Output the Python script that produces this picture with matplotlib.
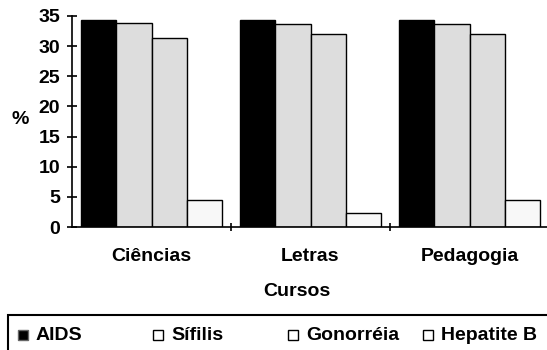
import matplotlib
matplotlib.use("Agg")
import matplotlib.pyplot as plt
import numpy as np
from matplotlib.patches import Rectangle

plt.rcParams["font.family"] = ["Liberation Sans", "DejaVu Sans"]
plt.rcParams["font.weight"] = "bold"

# =============================================================================
# DATA
# =============================================================================

cursos = ["Ciências", "Letras", "Pedagogia"]
doencas = ["AIDS", "Sífilis", "Gonorréia", "Hepatite B"]
aids = [34.3, 34.3, 34.3]
sifilis = [33.8, 33.6, 33.6]
gonorreia = [31.3, 32.0, 32.0]
hepatite = [4.4, 2.4, 4.4]
yticks = [0, 5, 10, 15, 20, 25, 30, 35]

colors = ["#000000", "#dddddd", "#dddddd", "#f8f8f8"]

# =============================================================================
# PLOT
# =============================================================================

W, H = 547, 350
fig = plt.figure(figsize=(W / 100, H / 100), dpi=100)
ax = fig.add_axes([72 / W, 123 / H, 477 / W, 211 / H])

x = np.arange(len(cursos))
width = 0.222
series = [aids, sifilis, gonorreia, hepatite]
for i, vals in enumerate(series):
    ax.bar(x + (i - 1.5) * width, vals, width, color=colors[i],
           edgecolor="black", linewidth=1.0, zorder=2)

ax.set_xlim(-0.5, 2.5)
ax.set_ylim(0, 35)
ax.set_yticks(yticks)
ax.tick_params(axis="y", labelsize=14, length=7, width=1.2, pad=5,
               direction="inout")
ax.set_xticks(x)
ax.set_xticklabels(cursos, fontsize=14)
ax.tick_params(axis="x", which="major", length=0, pad=15)
ax.set_xticks([0.5, 1.5], minor=True)
ax.tick_params(axis="x", which="minor", length=6, direction="inout",
               width=1.2)

for s in ["top", "right"]:
    ax.spines[s].set_visible(False)
ax.spines["left"].set_linewidth(1.2)
ax.spines["bottom"].set_linewidth(1.2)

ax.set_ylabel("%", fontsize=14, fontweight="bold", rotation=0,
              va="center", ha="center")
ax.yaxis.set_label_coords(-52 / 477, (227 - 120) / 211)
ax.set_xlabel("Cursos", fontsize=14, fontweight="bold", va="center")
ax.xaxis.set_label_coords(0.5 - (72 + 238.5 - 297) / 477, (227 - 292) / 211)

# legend box, drawn by hand so the columns are evenly spaced
fig.patches.append(Rectangle((8 / W, -0.1), 1.0, (H - 315) / H + 0.1,
                             transform=fig.transFigure, fill=False,
                             edgecolor="black", linewidth=1.5))
leg_x = [18, 153, 288, 423]
leg_y = 335
sq = 10
for i, name in enumerate(doencas):
    face = "black" if i == 0 else "white"
    edge = "#666666" if i == 0 else "black"
    fig.patches.append(Rectangle((leg_x[i] / W, (H - leg_y - sq / 2) / H),
                                 sq / W, sq / H, transform=fig.transFigure,
                                 facecolor=face, edgecolor=edge,
                                 linewidth=1.0))
    fig.text((leg_x[i] + sq + 8) / W, (H - leg_y) / H, name, fontsize=14,
             fontweight="bold", va="center", ha="left")

fig.savefig("out.png", dpi=100)
